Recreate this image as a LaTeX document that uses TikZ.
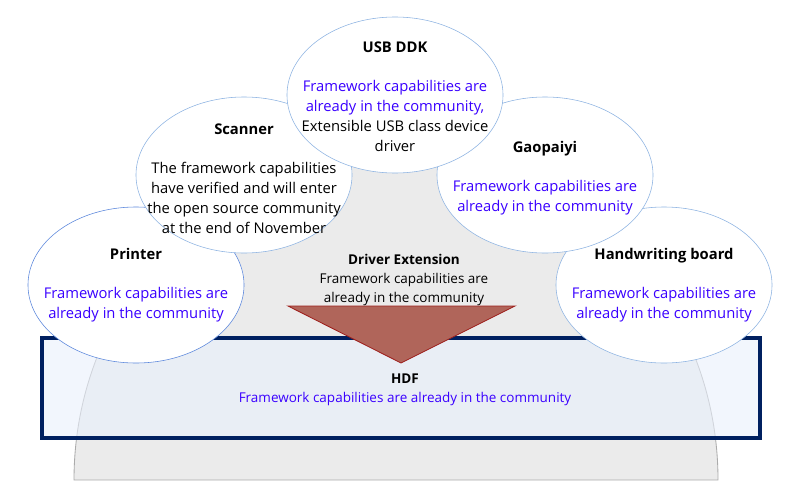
\documentclass[tikz,border=0pt]{standalone}
\usepackage{fontspec}
\setmainfont{Open Sans}
\usetikzlibrary{shapes.geometric}

\definecolor{nenxam}{HTML}{EBEBEB}
\definecolor{vienxam}{HTML}{ABABAB}
\definecolor{vienbong}{HTML}{8DB3E2}
\definecolor{vienbongdam}{HTML}{5A86DC}
\definecolor{vienhdf}{HTML}{002060}
\definecolor{nenhdf}{HTML}{E9F0FC}
\definecolor{nenphieu}{HTML}{B0655A}
\definecolor{vienphieu}{HTML}{9E1F1C}
\definecolor{chuxanh}{HTML}{3A00FF}

\newcommand\xanh[1]{\textcolor{chuxanh}{#1}}

\begin{document}
\begin{tikzpicture}[>=latex, x=0.025cm, y=-0.025cm,
    bubble/.style={ellipse, draw=vienbong, fill=white, minimum width=5.4cm,
        minimum height=3.9cm, inner sep=0pt},
    bubbletext/.style={align=center, inner sep=0pt,
        font=\fontsize{10.5}{14.2}\selectfont},
    smalltext/.style={align=center, inner sep=0pt,
        font=\fontsize{9.6}{13.5}\selectfont}]
    \useasboundingbox (0,0) rectangle (800,500);

    % Nền xám hình vòm
    \draw[draw=vienxam, fill=nenxam, line width=0.6pt]
        (74,480) arc[start angle=180, end angle=360, x radius=322, y radius=330] -- cycle;

    % Khung HDF
    \node[draw=vienhdf, line width=2.8pt, fill=nenhdf, fill opacity=0.6,
        minimum width=17.95cm, minimum height=2.5cm] (hdf) at (401,388) {};

    % Các bong bóng dưới cùng
    \node[bubble, draw=vienbongdam] (printer) at (136,285) {};
    \node[bubble] (handwriting) at (664,285) {};

    % Các bong bóng ở giữa
    \node[bubble] (scanner) at (244,175) {};
    \node[bubble] (gaopaiyi) at (545,175) {};

    % Bong bóng trên cùng
    \node[bubble] (usbddk) at (395,95) {};

    % Phễu tam giác
    \draw[draw=vienphieu, fill=nenphieu, line width=0.6pt]
        (288,306) -- (515,306) -- (401,363) -- cycle;

    % Chữ trong các bong bóng
    \node[bubbletext] (printertext) at (printer.center)
        {\textbf{Printer}\\[13.5pt]\xanh{Framework capabilities are}\\\xanh{already in the community}};
    \node[bubbletext] (handwritingtext) at (handwriting.center)
        {\textbf{Handwriting board}\\[13.5pt]\xanh{Framework capabilities are}\\\xanh{already in the community}};
    \node[bubbletext, yshift=-2.5pt] (scannertext) at (scanner.center)
        {\textbf{Scanner}\\[13.5pt]The framework capabilities\\have verified and will enter\\the open source community\\at the end of November};
    \node[bubbletext, yshift=-2.5pt] (gaopaiyitext) at (gaopaiyi.center)
        {\textbf{Gaopaiyi}\\[13.5pt]\xanh{Framework capabilities are}\\\xanh{already in the community}};
    \node[bubbletext, yshift=-1pt] (usbddktext) at (usbddk.center)
        {\textbf{USB DDK}\\[13.5pt]\xanh{Framework capabilities are}\\\xanh{already in the community,}\\Extensible USB class device\\driver};

    % Chữ của Driver Extension và HDF
    \node[smalltext] (drivertext) at (404,280)
        {\textbf{Driver Extension}\\Framework capabilities are\\already in the community};
    \node[smalltext] (hdftext) at (405,390)
        {\textbf{HDF}\\\xanh{Framework capabilities are already in the community}};
\end{tikzpicture}
\end{document}
